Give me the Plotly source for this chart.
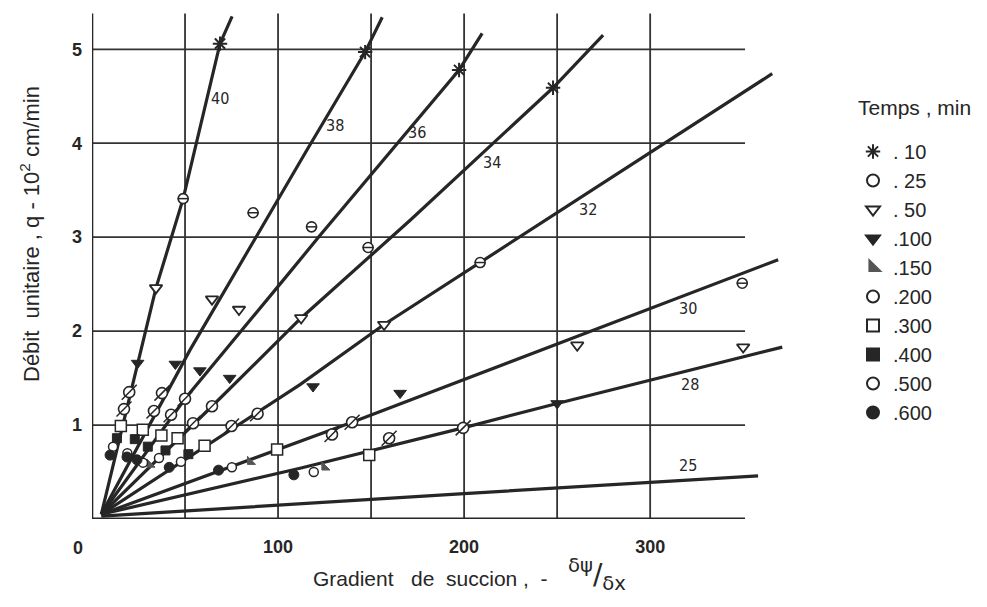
import plotly.graph_objects as go

# ---------------- data ----------------
# regression lines (suction / temperature curves)
line_names = ["40", "38", "36", "34", "32", "30", "28", "25"]
l40_x = [5, 34.4, 49, 68.8, 75.3]
l40_y = [0.05, 2.46, 3.41, 5.06, 5.35]
l38_x = [5, 52.7, 115.6, 146.8, 156]
l38_y = [0.05, 1.80, 3.93, 4.97, 5.34]
l36_x = [5, 50, 102.7, 122.6, 197.3, 209.7]
l36_y = [0.05, 1.28, 2.54, 3.02, 4.78, 5.17]
l34_x = [5, 64.5, 112.4, 171, 247.8, 274.7]
l34_y = [0.05, 1.20, 2.14, 3.18, 4.59, 5.15]
l32_x = [5, 111.8, 157, 208.6, 365.6]
l32_y = [0.05, 1.43, 2.07, 2.73, 4.74]
l30_x = [5, 139.8, 368.8]
l30_y = [0.05, 1.03, 2.76]
l28_x = [5, 111.8, 199.5, 250, 371]
l28_y = [0.05, 0.54, 0.97, 1.23, 1.83]
l25_x = [5, 100, 200, 300, 358]
l25_y = [0.03, 0.15, 0.27, 0.39, 0.46]
lines_x = [l40_x, l38_x, l36_x, l34_x, l32_x, l30_x, l28_x, l25_x]
lines_y = [l40_y, l38_y, l36_y, l34_y, l32_y, l30_y, l28_y, l25_y]

# line label positions
label_x = [68.8, 130.6, 174.7, 215, 266.7, 320.4, 321.5, 320.4]
label_y = [4.48, 4.19, 4.11, 3.80, 3.29, 2.24, 1.43, 0.57]

# measured points, by time (min)
t10_x = [68.8, 146.8, 197.3, 247.8]
t10_y = [5.06, 4.97, 4.78, 4.59]
t25_x = [49, 86.6, 118, 148.4, 208.6, 349.5]
t25_y = [3.41, 3.26, 3.11, 2.89, 2.73, 2.51]
t50_x = [34.4, 64.5, 79, 112.4, 157, 260.8, 350]
t50_y = [2.46, 2.34, 2.23, 2.14, 2.07, 1.85, 1.83]
t100_x = [24.5, 44.8, 58, 74, 118.8, 165.6, 250]
t100_y = [1.66, 1.65, 1.58, 1.50, 1.41, 1.34, 1.23]
t150_x = [31, 85, 125]
t150_y = [0.58, 0.61, 0.55]
t200_x = [17.2, 20, 33.3, 37.6, 42.5, 50, 54.3, 64.5, 75, 89, 129, 139.8, 159.7, 199.5]
t200_y = [1.17, 1.35, 1.15, 1.34, 1.11, 1.28, 1.02, 1.20, 0.99, 1.12, 0.90, 1.03, 0.86, 0.97]
t300_x = [15.5, 27.3, 37.3, 46, 60.5, 99.5, 149]
t300_y = [0.99, 0.95, 0.89, 0.86, 0.78, 0.74, 0.68]
t400_x = [13.4, 23, 30, 39.5, 51.8]
t400_y = [0.86, 0.85, 0.77, 0.73, 0.69]
t500_x = [11.3, 19, 27.4, 36, 47.8, 75.2, 119.2]
t500_y = [0.77, 0.70, 0.60, 0.65, 0.61, 0.55, 0.50]
t600_x = [9.7, 18.8, 24.2, 41.5, 68, 108.5]
t600_y = [0.68, 0.66, 0.63, 0.55, 0.52, 0.47]

x_ticks = [100, 200, 300]
y_ticks = [1, 2, 3, 4, 5]
grid_x = [50, 100, 150, 200, 250, 300]
grid_y = [1, 2, 3, 4, 5]
grid_right = 351
grid_top = 5.38

# ---------------- figure ----------------
INK = "#262626"
SANS = "Liberation Sans, Arial, sans-serif"
fig = go.Figure()

for xs, ys in zip(lines_x, lines_y):
    fig.add_trace(go.Scatter(x=xs, y=ys, mode="lines", line=dict(color=INK, width=3.2),
                             showlegend=False, hoverinfo="skip"))

series = [
    (". 10", t10_x, t10_y, dict(symbol="asterisk-open", size=12, color=INK, line=dict(color=INK, width=2))),
    (". 25", t25_x, t25_y, dict(symbol="circle", size=10, color="white", line=dict(color=INK, width=1.6))),
    (". 50", t50_x, t50_y, dict(symbol="triangle-down", size=11, color="white", line=dict(color=INK, width=1.8))),
    (".100", t100_x, t100_y, dict(symbol="triangle-down", size=11, color=INK, line=dict(color=INK, width=1))),
    (".150", t150_x, t150_y, dict(symbol="triangle-sw", size=9, color="#555", line=dict(color="#555", width=1))),
    (".200", t200_x, t200_y, dict(symbol="circle", size=11, color="white", line=dict(color=INK, width=1.6))),
    (".300", t300_x, t300_y, dict(symbol="square", size=11, color="white", line=dict(color=INK, width=1.5))),
    (".400", t400_x, t400_y, dict(symbol="square", size=9, color=INK, line=dict(color=INK, width=1))),
    (".500", t500_x, t500_y, dict(symbol="circle", size=9, color="white", line=dict(color=INK, width=1.5))),
    (".600", t600_x, t600_y, dict(symbol="circle", size=10, color=INK, line=dict(color=INK, width=1))),
]
for i, (name, xs, ys, mk) in enumerate(series):
    fig.add_trace(go.Scatter(x=xs, y=ys, mode="markers", name=name, marker=mk,
                             legendgroup=str(i), cliponaxis=False))
    if name == ". 25":
        fig.add_trace(go.Scatter(x=xs, y=ys, mode="markers", showlegend=False, legendgroup=str(i),
                                 marker=dict(symbol="line-ew", size=8, line=dict(color=INK, width=1.5))))
    if name == ".200":
        fig.add_trace(go.Scatter(x=xs, y=ys, mode="markers", showlegend=False, legendgroup=str(i),
                                 marker=dict(symbol="line-ne", size=15, line=dict(color=INK, width=1.5))))

shapes = []
for gx in grid_x:
    shapes.append(dict(type="line", xref="x", yref="y", x0=gx, x1=gx, y0=-0.06, y1=grid_top,
                       line=dict(color="#333", width=1.8), layer="below"))
for gy in grid_y:
    shapes.append(dict(type="line", xref="x", yref="y", x0=0, x1=grid_right, y0=gy, y1=gy,
                       line=dict(color="#333", width=1.8), layer="below"))
# axes
shapes.append(dict(type="line", xref="x", yref="y", x0=0, x1=0, y0=0, y1=grid_top,
                   line=dict(color=INK, width=2.6), layer="below"))
shapes.append(dict(type="line", xref="x", yref="y", x0=0, x1=grid_right, y0=0, y1=0,
                   line=dict(color=INK, width=3), layer="below"))

LABF = "Liberation Sans Narrow, DejaVu Sans Condensed, Roboto Condensed, sans-serif"
annotations = []
for t, lx, ly in zip(line_names, label_x, label_y):
    annotations.append(dict(x=lx, y=ly, xref="x", yref="y", text=t, showarrow=False,
                            xanchor="center", yanchor="middle",
                            font=dict(family=LABF, size=16, color=INK)))


def paper_note(px, py, text, size, family=SANS, angle=0, xanchor="center"):
    return dict(x=(px - 92) / 707, y=(519 - py) / 512, xref="paper", yref="paper",
                xanchor=xanchor, yanchor="middle", text=text, showarrow=False, textangle=angle,
                font=dict(family=family, size=size, color=INK))


# shared origin label
annotations.append(paper_note(78, 548, "<b>0</b>", 18))
# axis titles
annotations.append(paper_note(30, 234, "Débit\u00a0 unitaire , q - 10<sup>2</sup> cm/min", 22, angle=-90))
annotations.append(paper_note(430, 578, "Gradient\u00a0\u00a0 de\u00a0 succion ,\u00a0 -", 21))
annotations.append(paper_note(597, 574, "<sup>δψ</sup>/<sub>δx</sub>", 28, family="DejaVu Sans, sans-serif"))
# legend title
annotations.append(paper_note(856, 107, "Temps , min", 21, xanchor="left"))

fig.update_layout(
    width=987, height=607,
    margin=dict(l=92, r=188, t=7, b=88),
    plot_bgcolor="white", paper_bgcolor="white",
    xaxis=dict(range=[0, 380], showgrid=False, zeroline=False, showline=False, ticks="",
               tickvals=x_ticks, ticktext=["<b>%d</b>" % v for v in x_ticks], ticklabelstandoff=15,
               tickfont=dict(family=SANS, size=18, color=INK)),
    yaxis=dict(range=[0, 5.45], showgrid=False, zeroline=False, showline=False, ticks="",
               tickvals=y_ticks, ticktext=["<b>%d</b>" % v for v in y_ticks], ticklabelstandoff=9,
               tickfont=dict(family=SANS, size=18, color=INK)),
    shapes=shapes, annotations=annotations,
    showlegend=True,
    legend=dict(x=(853 - 92) / 707, y=(519 - 132) / 512, xanchor="left", yanchor="top",
                bgcolor="rgba(0,0,0,0)", tracegroupgap=0, itemsizing="constant",
                font=dict(family=SANS, size=20, color=INK)),
)

fig.write_html("out.html")
